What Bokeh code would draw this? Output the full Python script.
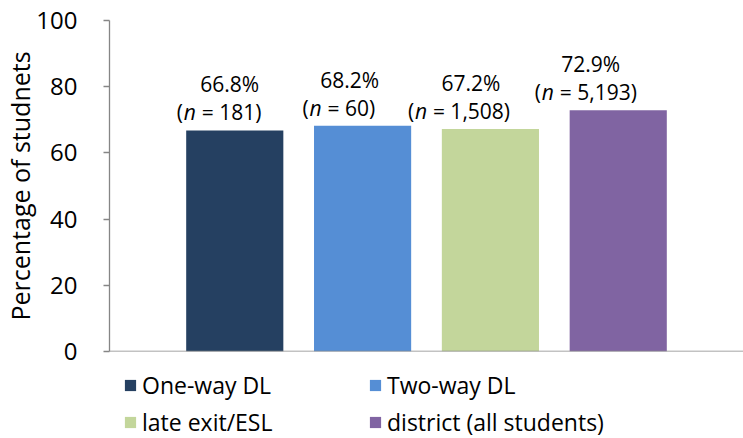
from bokeh.plotting import figure
from bokeh.models import ColumnDataSource, Legend, LegendItem, FactorRange, Span
from bokeh.layouts import column
from bokeh.core.properties import value
from bokeh.embed import file_html
from bokeh.resources import INLINE

# ---- data ----
groups = ["One-way DL", "Two-way DL", "late exit/ESL", "district (all students)"]
percent = [66.8, 68.2, 67.2, 72.9]
n_values = ["181", "60", "1,508", "5,193"]
y_ticks = [0, 20, 40, 60, 80, 100]

# ---- styles ----
colors = ["#254061", "#558ED5", "#C3D69B", "#8064A2"]
pct_dx = [-5, -13, -19.5, -27.5]        # px offsets of the % label centre
n_dx = [-58, -60, -82.5, -83.5]         # px offsets of the (n = ...) left edge
FONT = "Open Sans"
FS = "21px"
LFS = "23px"
GRAY = "#868686"

src = ColumnDataSource(dict(
    group=groups,
    pct=percent,
    color=colors,
    pct_text=[f"{v}%" for v in percent],
    rest_text=[f"= {n})" for n in n_values],
    pct_dx=pct_dx,
    paren_dx=n_dx,
    n_dx=[d + 7 for d in n_dx],
    rest_dx=[d + 25 for d in n_dx],
))

p = figure(width=743, height=366,
           x_range=FactorRange(factors=groups, range_padding=0.24),
           y_range=(0, 100),
           output_backend="svg", toolbar_location=None,
           min_border_left=106, min_border_top=20, min_border_right=0,
           min_border_bottom=15)

bars = p.vbar(x="group", top="pct", width=0.76, color="color", source=src,
              line_color=None)

common = dict(source=src, text_font=value(FONT), text_font_size=FS,
              text_baseline="middle", text_color="#000000")
p.text(x="group", y="pct", text="pct_text", x_offset="pct_dx", y_offset=-46,
       text_align="center", **common)
p.text(x="group", y="pct", text=value("("), x_offset="paren_dx", y_offset=-18,
       text_align="left", **common)
p.text(x="group", y="pct", text=value("n"), x_offset="n_dx", y_offset=-18,
       text_align="left", text_font_style="italic", **common)
p.text(x="group", y="pct", text="rest_text", x_offset="rest_dx", y_offset=-18,
       text_align="left", **common)

p.add_layout(Span(location=0, dimension="width", line_color=GRAY, line_width=1.3))

p.xgrid.visible = False
p.ygrid.visible = False
p.outline_line_color = None
p.xaxis.visible = False

p.yaxis.ticker = y_ticks
p.yaxis.axis_label = "Percentage of studnets"
p.yaxis.axis_label_text_font = FONT
p.yaxis.axis_label_text_font_size = "25px"
p.yaxis.axis_label_text_font_style = "normal"
p.yaxis.axis_label_text_color = "#000000"
p.yaxis.axis_label_standoff = -4
p.yaxis.major_label_text_font = FONT
p.yaxis.major_label_text_font_size = "24px"
p.yaxis.major_label_text_color = "#000000"
p.yaxis.major_label_standoff = 26
p.yaxis.axis_line_color = GRAY
p.yaxis.axis_line_width = 1.3
p.yaxis.major_tick_line_color = GRAY
p.yaxis.major_tick_line_width = 1.3
p.yaxis.major_tick_in = 0
p.yaxis.major_tick_out = 6
p.yaxis.minor_tick_line_color = None

# legend strip below the chart
p2 = figure(width=743, height=72,
            x_range=FactorRange(factors=groups), y_range=(1000, 1001),
            output_backend="svg", toolbar_location=None,
            min_border_left=0, min_border_top=0, min_border_right=0,
            min_border_bottom=0)
p2.axis.visible = False
p2.grid.visible = False
p2.outline_line_color = None
lbars = p2.vbar(x="group", top="pct", width=0.76, color="color", source=src,
                line_color=None)

def make_legend(idx, y):
    items = [LegendItem(label=groups[i], renderers=[lbars], index=i) for i in idx]
    return Legend(items=items, orientation="horizontal",
                  location=(14, y), margin=0, padding=0,
                  glyph_width=14, glyph_height=14, label_standoff=5,
                  label_width=226, label_height=25, spacing=0,
                  label_text_font=FONT, label_text_font_size=LFS,
                  label_text_color="#000000", border_line_color=None,
                  background_fill_alpha=0)

p2.add_layout(make_legend([0, 1], 37))
p2.add_layout(make_legend([2, 3], 0))

layout = column(p, p2, spacing=0)
open("out.html", "w").write(file_html(layout, INLINE))
